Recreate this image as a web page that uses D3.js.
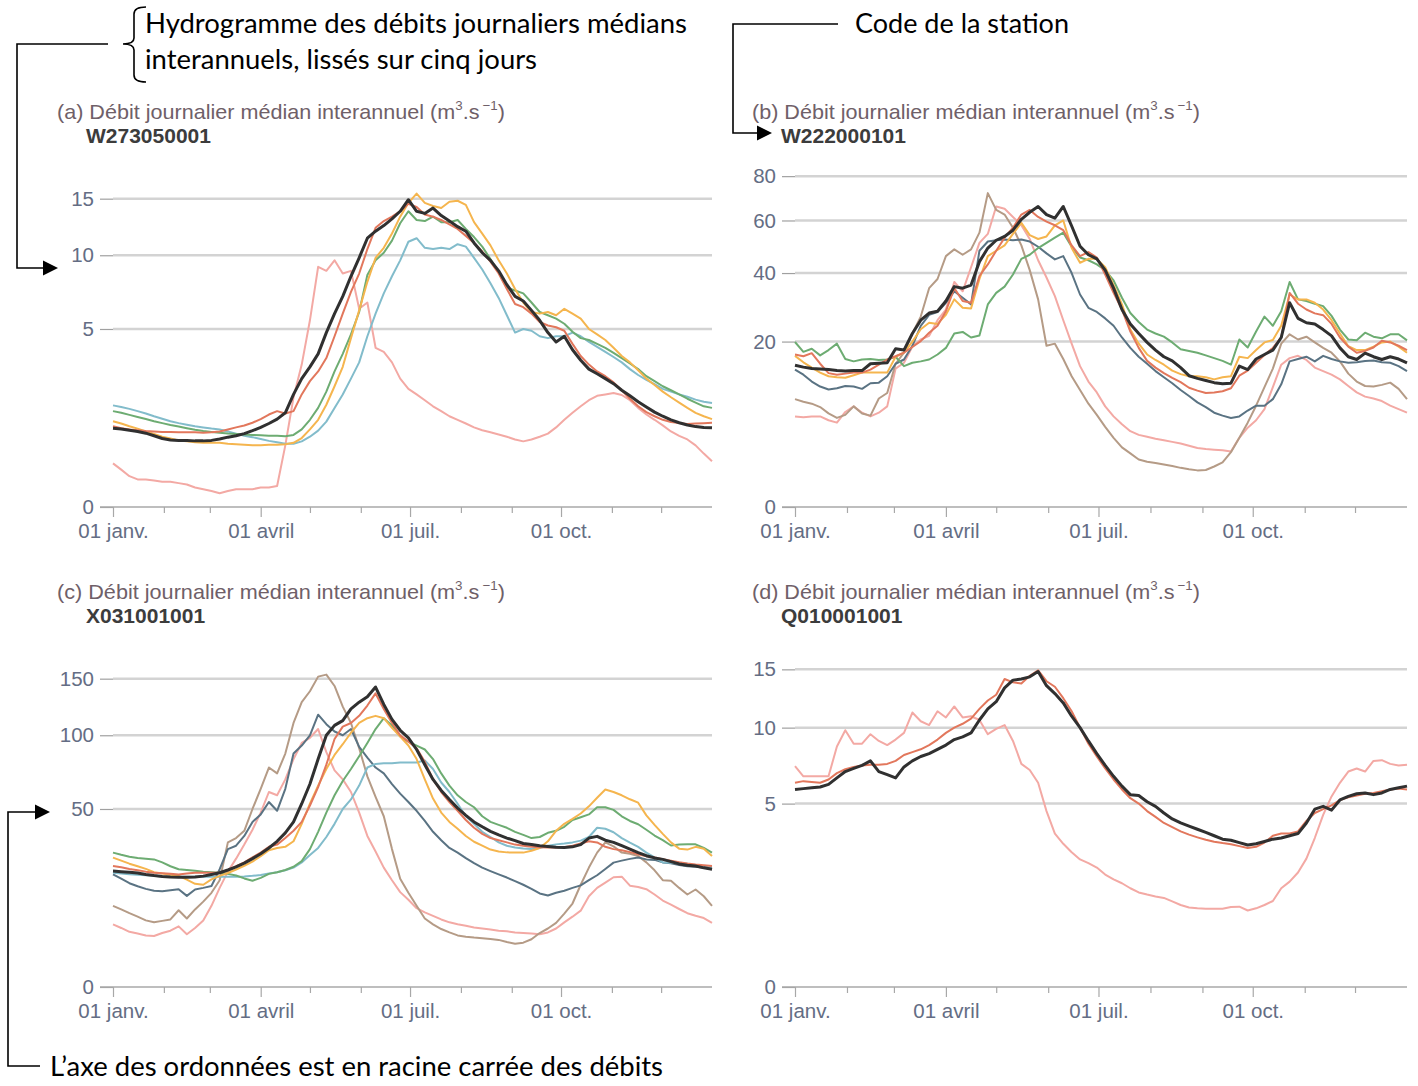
<!DOCTYPE html>
<html>
<head>
<meta charset="utf-8">
<script src="https://cdn.jsdelivr.net/npm/d3@7"></script>
<style>
  body { margin: 0; background: #fff; }
  svg { display: block; }
</style>
</head>
<body>
<svg id="fig" width="1418" height="1086"></svg>
<script>
// Jours de l'année (pas de 5 jours), 1er janvier = jour 0
const jours = d3.range(0, 366, 5);

// Graduations de l'axe des abscisses
const debutsMois = [0, 31, 59, 90, 120, 151, 181, 212, 243, 273, 304, 334];
const joursEtiquetes = [0, 90, 181, 273];
const etiquettesMois = ["01 janv.", "01 avril", "01 juil.", "01 oct."];

// Graduations des ordonnées (m3/s)
const ticksA = [0, 5, 10, 15];
const ticksB = [0, 20, 40, 60, 80];
const ticksC = [0, 50, 100, 150];
const ticksD = [0, 5, 10, 15];

// ---- (a) W273050001 : débits médians lissés (m3/s)
const A_noir = [0.98,0.96,0.93,0.90,0.86,0.80,0.74,0.71,0.70,0.70,
  0.69,0.69,0.70,0.73,0.77,0.80,0.85,0.92,1.00,1.10,
  1.22,1.40,2.0,2.6,3.1,3.7,4.8,5.9,7.0,8.4,
  9.8,11.4,12.0,12.5,13.1,13.8,14.9,13.8,13.6,14.1,
  13.4,12.9,12.4,12.0,11.0,10.2,9.6,8.8,7.8,7.0,
  6.7,6.1,5.5,4.8,4.3,4.6,3.9,3.4,3.0,2.8,
  2.6,2.4,2.15,1.95,1.75,1.58,1.42,1.30,1.20,1.12,
  1.06,1.02,1.00,0.99];
const A_rouge = [1.03,0.98,0.95,0.93,0.91,0.90,0.89,0.89,0.88,0.88,
  0.88,0.87,0.88,0.90,0.95,1.00,1.05,1.12,1.22,1.35,
  1.45,1.38,1.45,2.0,2.5,2.9,3.5,4.6,5.9,7.3,
  8.6,10.5,12.3,12.9,13.3,13.8,14.5,14.2,13.5,13.3,
  13.0,12.6,12.2,11.6,11.0,10.3,9.5,8.6,7.5,6.5,
  6.3,5.9,5.4,5.2,5.1,4.9,4.2,3.6,3.2,2.9,
  2.7,2.45,2.15,1.85,1.6,1.42,1.30,1.20,1.14,1.11,
  1.09,1.10,1.11,1.12];
const A_vert = [1.45,1.40,1.34,1.28,1.22,1.16,1.11,1.06,1.02,0.98,
  0.94,0.91,0.89,0.87,0.85,0.84,0.83,0.82,0.81,0.80,
  0.80,0.79,0.82,0.95,1.2,1.55,2.1,2.9,3.7,4.7,
  6.0,8.5,9.6,10.2,11.2,12.7,13.8,13.0,12.9,13.3,
  12.8,12.8,13.0,12.2,11.5,10.7,9.7,8.7,7.6,7.4,
  7.2,6.6,6.0,5.8,5.6,5.3,4.85,4.5,4.4,4.2,
  4.0,3.75,3.5,3.25,3.0,2.7,2.5,2.3,2.15,2.0,
  1.85,1.72,1.6,1.55];
const A_jaune = [1.16,1.10,1.03,0.97,0.90,0.84,0.78,0.74,0.70,0.68,
  0.66,0.65,0.65,0.65,0.63,0.62,0.61,0.60,0.60,0.61,
  0.61,0.62,0.65,0.75,0.95,1.2,1.65,2.3,3.1,4.5,
  6.1,8.0,9.8,10.6,11.8,13.3,14.6,15.5,14.6,14.3,
  14.1,14.7,14.8,14.4,12.8,11.8,10.8,9.6,8.6,7.5,
  6.6,6.0,5.9,6.0,5.8,6.2,5.9,5.6,5.0,4.7,
  4.4,4.0,3.6,3.3,2.95,2.6,2.35,2.1,1.9,1.72,
  1.55,1.4,1.3,1.22];
const A_bleu = [1.63,1.58,1.52,1.45,1.38,1.30,1.23,1.16,1.11,1.07,
  1.03,1.00,0.97,0.95,0.90,0.85,0.80,0.77,0.73,0.69,
  0.66,0.63,0.63,0.68,0.78,0.92,1.15,1.55,2.0,2.6,
  3.3,4.6,5.9,7.2,8.4,9.6,11.1,11.4,10.6,10.5,
  10.6,10.5,10.9,10.7,9.8,8.9,7.9,6.9,5.8,4.8,
  5.0,4.9,4.6,4.5,4.6,4.6,4.8,4.6,4.3,4.05,
  3.8,3.55,3.3,3.0,2.75,2.55,2.38,2.2,2.1,2.0,
  1.92,1.82,1.75,1.71];
const A_rose = [0.30,0.22,0.15,0.12,0.12,0.11,0.10,0.10,0.09,0.08,
  0.06,0.05,0.04,0.03,0.04,0.05,0.05,0.05,0.06,0.06,
  0.07,0.6,1.9,3.2,5.5,9.1,8.8,9.6,8.6,8.8,
  6.2,6.6,4.0,3.8,3.3,2.6,2.2,2.0,1.8,1.6,
  1.45,1.3,1.2,1.1,1.0,0.93,0.88,0.83,0.78,0.72,
  0.68,0.72,0.78,0.85,1.0,1.2,1.4,1.6,1.8,1.95,
  2.0,2.05,1.98,1.8,1.55,1.35,1.2,1.05,0.9,0.8,
  0.72,0.6,0.45,0.33];

// ---- (b) W222000101
const B_noir = [14.7,14.3,14.0,13.9,13.8,13.6,13.5,13.6,13.6,15.0,
  15.1,15.2,18.3,18.0,22.0,25.5,27.5,28.0,31.0,35.5,
  35.0,36.0,44.0,49.0,52.0,53.5,56.0,60.5,63.5,66.0,
  62.5,61.0,66.0,57.7,49.7,46.5,45.0,41.0,35.0,28.5,
  24.5,22.0,19.8,18.0,16.5,15.6,14.2,12.6,12.1,11.7,
  11.3,11.1,11.2,14.5,13.8,16.0,17.0,18.0,21.0,30.5,
  26.0,24.8,24.5,23.0,21.4,18.5,16.5,15.9,17.3,16.5,
  15.9,16.5,16.0,15.2];
const B_vert = [19.9,17.6,18.3,16.8,18.0,19.5,16.0,15.5,15.9,16.0,
  15.8,15.9,16.5,14.5,15.2,15.5,15.9,17.0,18.5,22.0,
  22.4,21.0,21.5,30.0,33.5,35.5,39.5,45.0,46.5,49.0,
  51.0,53.0,55.0,49.5,45.5,44.5,43.0,41.0,37.5,32.0,
  27.5,25.0,23.0,22.0,21.2,19.8,18.2,17.8,17.4,16.8,
  16.2,15.6,14.8,20.5,18.6,22.5,26.5,24.0,28.0,37.0,
  31.5,31.0,30.2,29.5,26.7,23.0,20.5,20.3,22.2,21.2,
  20.8,21.8,21.8,20.3];
const B_rouge = [17.0,16.6,17.3,15.0,13.1,12.8,13.0,13.2,13.2,13.8,
  14.8,15.9,16.6,17.4,18.7,20.1,22.2,24.0,28.0,35.0,
  31.0,30.5,39.0,43.0,48.0,53.0,57.0,62.5,64.5,61.5,
  59.5,58.0,56.0,50.0,46.0,47.5,45.5,39.5,33.5,28.5,
  22.5,18.5,15.6,14.2,13.1,12.2,11.4,10.4,9.9,9.5,
  9.6,9.8,10.3,12.6,13.6,15.2,16.9,18.5,21.0,33.5,
  30.2,28.5,27.4,26.9,24.5,21.0,18.8,17.4,17.8,18.6,
  20.2,19.8,19.0,18.0];
const B_jaune = [16.7,15.3,14.2,13.2,12.5,12.3,12.2,12.7,13.2,13.2,
  13.2,13.2,16.5,17.4,20.0,23.1,24.8,24.5,27.0,31.5,
  29.0,28.8,38.0,46.0,48.0,50.0,54.5,59.0,54.0,52.5,
  53.5,58.0,60.0,49.0,43.6,45.0,45.0,42.0,36.0,30.0,
  23.0,19.5,17.0,15.8,14.8,13.6,12.9,12.5,12.5,12.3,
  11.9,12.3,12.5,16.5,16.2,18.0,19.8,20.4,24.0,33.0,
  31.5,31.5,30.5,28.5,25.5,22.0,18.9,18.0,18.0,18.8,
  19.8,20.0,18.8,17.4];
const B_ardoise = [13.8,12.8,11.5,10.6,10.1,10.3,10.7,10.6,10.2,11.2,
  11.3,12.5,15.0,15.9,19.0,24.0,27.0,27.8,30.5,34.0,
  32.0,30.0,48.0,51.5,52.0,52.3,52.0,52.3,51.5,49.5,
  47.0,44.8,46.0,40.0,33.0,29.0,27.8,26.0,24.0,21.0,
  18.5,16.5,15.0,13.5,12.3,11.2,10.0,9.0,8.0,7.3,
  6.5,6.1,5.8,6.0,6.8,7.5,7.5,8.5,11.0,15.5,
  16.0,16.5,15.5,16.7,16.0,15.5,15.2,15.3,15.6,15.7,
  15.3,15.2,14.5,13.5];
const B_brun = [8.5,8.1,7.8,7.3,6.4,5.8,6.2,7.4,6.4,6.1,
  8.6,9.5,15.0,17.4,22.0,26.5,35.0,38.0,46.0,48.5,
  46.5,48.5,55.0,72.0,64.5,62.5,57.0,50.0,41.0,31.5,
  19.0,19.5,16.0,12.5,10.0,7.8,6.2,4.7,3.5,2.6,
  2.1,1.65,1.5,1.42,1.32,1.23,1.12,1.04,0.98,1.0,
  1.2,1.45,2.2,3.5,5.2,7.5,10.5,14.0,19.5,21.8,
  20.5,21.2,19.8,18.5,17.4,15.5,13.0,11.5,10.7,10.6,
  10.9,11.3,10.2,8.5];
const B_rose = [6.0,5.9,6.0,6.0,5.5,5.2,6.6,7.4,6.5,6.0,
  6.5,7.4,14.0,15.2,18.8,20.5,21.4,25.5,28.5,37.0,
  34.0,42.0,51.0,54.5,66.0,65.0,61.5,58.0,52.5,44.5,
  38.5,32.5,25.5,19.5,14.5,11.5,9.6,7.4,6.0,5.0,
  4.2,3.8,3.6,3.4,3.25,3.1,2.95,2.75,2.55,2.45,
  2.4,2.35,2.25,3.5,4.6,5.5,7.0,10.5,14.8,16.2,
  16.7,15.8,14.2,13.5,12.8,11.9,10.7,9.6,8.9,8.6,
  8.2,7.5,7.0,6.5];

// ---- (c) X031001001
const C_noir = [21.2,21.0,20.8,20.5,20.0,19.6,19.3,19.1,19.0,19.0,
  19.1,19.4,20.0,20.6,21.6,22.8,24.2,26.0,28.0,30.5,
  33.5,37.5,43.0,53.0,65.0,82.0,100.0,108.0,112.0,122.0,
  128.0,133.0,142.0,126.0,113.0,104.0,98.0,89.0,78.0,68.0,
  61.0,55.5,50.5,46.5,43.0,40.5,38.2,36.5,35.0,33.8,
  32.5,32.0,31.5,31.2,30.8,30.7,31.0,32.0,35.0,35.8,
  34.0,33.0,31.5,30.0,28.5,27.2,26.3,25.7,24.8,23.9,
  23.4,23.1,22.4,21.9];
const C_rouge = [23.1,22.6,22.0,21.5,21.0,20.6,20.4,20.2,20.0,20.3,
  20.6,20.6,20.6,20.6,21.5,23.0,24.5,26.5,28.5,31.0,
  32.0,35.0,38.5,43.0,52.0,63.0,78.0,97.0,107.0,110.0,
  116.0,125.0,136.0,122.0,110.0,100.0,95.0,90.0,80.0,68.0,
  60.0,54.0,49.0,44.0,40.0,37.0,35.0,34.0,33.0,32.0,
  31.5,31.0,30.8,30.7,30.7,30.8,31.5,32.5,33.5,33.0,
  31.0,30.0,29.5,28.7,27.8,27.0,26.5,25.8,25.2,24.6,
  24.1,23.7,23.4,23.1];
const C_jaune = [26.4,25.2,24.0,23.0,22.0,20.8,20.3,19.9,19.5,18.2,
  16.8,16.5,18.3,19.5,20.5,21.8,23.2,24.8,27.0,29.5,
  30.5,31.0,33.5,42.0,53.0,64.0,75.0,85.0,93.0,102.0,
  110.0,114.0,116.0,114.0,106.0,99.0,92.0,82.0,68.0,56.0,
  48.0,43.0,39.5,36.0,33.3,31.5,29.8,29.0,28.6,28.5,
  28.5,29.3,30.5,33.5,38.5,42.0,44.6,47.5,51.5,56.5,
  61.5,60.0,58.0,55.6,53.6,46.5,41.5,37.0,33.0,30.2,
  29.8,31.0,30.2,27.1];
const C_vert = [28.5,27.6,26.8,26.3,26.0,25.7,24.5,23.0,21.9,21.6,
  21.3,21.0,20.8,20.6,20.2,19.6,18.6,17.8,18.8,20.2,
  20.8,21.6,22.8,25.0,30.0,38.0,48.0,58.0,67.0,75.0,
  84.0,94.0,105.0,114.0,108.0,99.0,95.0,92.0,89.0,82.0,
  72.0,64.0,58.0,54.0,51.0,46.0,43.0,41.5,40.0,38.0,
  36.5,35.0,35.5,37.5,38.5,40.5,44.0,45.5,47.0,51.0,
  51.0,49.5,46.0,43.5,41.8,39.0,36.2,34.0,31.6,32.0,
  32.1,32.1,30.5,28.5];
const C_bleu = [20.6,20.3,20.1,19.9,19.7,19.5,19.3,19.2,19.2,19.2,
  19.2,19.2,19.2,19.2,19.2,19.2,19.3,19.5,19.8,20.3,
  20.8,21.5,22.5,24.5,27.5,30.5,35.5,42.0,50.0,55.5,
  64.0,76.0,78.5,79.0,79.0,79.5,79.5,79.5,81.0,75.0,
  66.0,60.0,53.0,46.0,42.0,38.0,35.5,33.0,31.5,30.7,
  30.3,30.0,30.5,31.5,32.1,32.5,33.0,33.8,35.5,40.0,
  39.5,37.8,35.0,32.9,31.0,28.5,26.5,24.5,24.4,24.4,
  24.0,23.2,22.8,22.5];
const C_ardoise = [20.0,18.5,17.0,16.0,15.2,14.6,14.5,14.8,15.1,13.1,
  15.0,15.5,16.1,21.9,30.0,31.5,36.0,43.0,47.0,54.0,
  49.0,62.0,86.0,92.0,100.0,117.0,109.0,103.0,100.0,105.0,
  91.0,83.0,76.0,72.0,65.0,59.0,54.0,49.0,43.5,38.0,
  34.0,30.5,28.5,26.2,24.2,22.5,21.2,20.0,18.9,17.7,
  16.5,15.2,13.8,13.2,14.0,14.6,15.5,16.3,18.0,19.7,
  22.0,24.4,25.2,25.9,26.5,25.7,25.5,24.5,24.2,23.5,
  23.0,22.8,22.5,21.9];
const C_brun = [10.4,9.5,8.6,7.8,7.0,6.6,6.9,7.2,9.3,7.4,
  9.5,11.5,14.0,18.0,33.0,35.0,38.5,50.0,62.0,76.0,
  72.0,86.0,110.0,128.0,138.0,152.0,154.0,143.0,124.0,110.0,
  90.0,70.0,57.0,46.0,30.0,18.5,14.0,10.4,7.4,6.2,
  5.3,4.7,4.2,4.0,3.85,3.75,3.65,3.5,3.2,2.95,
  3.1,3.6,4.6,5.4,6.5,8.5,11.0,16.5,22.5,28.5,
  33.0,31.2,28.5,28.0,27.1,24.5,21.5,18.0,17.8,15.5,
  13.5,15.0,13.0,10.4];
const C_rose = [6.2,5.5,4.8,4.5,4.2,4.1,4.6,5.0,5.8,4.4,
  5.5,7.0,10.4,15.5,21.0,26.0,32.0,39.0,48.0,60.0,
  58.0,68.0,82.0,94.0,98.0,105.0,87.0,74.0,68.0,60.0,
  48.0,36.0,29.0,22.5,18.0,14.2,12.0,9.8,8.8,8.0,
  7.2,6.6,6.2,5.9,5.6,5.4,5.2,5.0,4.9,4.7,
  4.6,4.5,4.4,4.7,5.4,6.6,7.8,9.2,13.0,15.5,
  17.2,19.0,19.2,16.2,15.8,15.1,13.5,11.8,10.7,9.6,
  8.6,8.0,7.5,6.5];

// ---- (d) Q010001001
const D_noir = [5.8,5.85,5.9,5.95,6.1,6.5,6.9,7.1,7.3,7.6,
  6.9,6.7,6.5,7.2,7.6,7.9,8.1,8.4,8.7,9.1,
  9.3,9.6,10.6,11.5,12.1,13.3,14.0,14.1,14.3,14.8,
  13.5,12.8,12.0,10.9,10.0,9.0,8.1,7.3,6.6,6.0,
  5.5,5.45,5.1,4.85,4.5,4.2,4.0,3.85,3.7,3.55,
  3.4,3.25,3.2,3.1,3.0,3.05,3.15,3.25,3.3,3.4,
  3.5,4.0,4.7,4.85,4.65,5.2,5.4,5.55,5.6,5.5,
  5.6,5.8,5.9,6.0];
const D_rouge = [6.2,6.3,6.25,6.2,6.4,6.8,7.05,7.2,7.3,7.35,
  7.35,7.4,7.6,8.0,8.2,8.4,8.7,9.1,9.6,10.0,
  10.3,10.7,11.5,12.2,12.7,14.1,13.8,13.7,14.4,14.9,
  13.9,13.4,12.4,11.3,10.0,8.8,7.9,7.1,6.4,5.8,
  5.3,5.0,4.6,4.3,4.0,3.8,3.6,3.45,3.33,3.22,
  3.14,3.08,3.03,2.95,2.87,2.92,3.1,3.4,3.5,3.5,
  3.6,4.1,4.5,4.7,4.9,5.2,5.35,5.45,5.55,5.6,
  5.7,5.8,5.85,5.8];
const D_rose = [7.25,6.6,6.6,6.6,6.6,8.6,9.8,8.8,8.8,9.5,
  9.0,8.7,9.1,9.6,11.2,10.5,10.2,11.3,10.8,11.7,
  10.8,10.9,10.6,9.5,9.9,10.2,9.0,7.4,7.0,6.2,
  4.6,3.5,3.05,2.7,2.42,2.28,2.12,1.88,1.72,1.6,
  1.45,1.33,1.27,1.22,1.18,1.09,1.0,0.94,0.92,0.91,
  0.91,0.91,0.95,0.96,0.87,0.92,1.0,1.1,1.45,1.65,
  1.95,2.45,3.3,4.4,5.4,6.2,6.9,7.1,6.9,7.6,
  7.65,7.4,7.3,7.35];

// Couleurs des séries
const couleurs = {
  rose: "#f3a9a4", rouge: "#e2775c", vert: "#6dac72", jaune: "#f5b54e",
  bleu: "#82bccb", ardoise: "#5a7383", brun: "#b59b86", noir: "#303030"
};

// Mise en page des quatre panneaux
const panneaux = [
  { lettre: "a", code: "W273050001", x0: 113, x1: 712, yb: 507, yt: 160, ymax: 19, ticks: ticksA,
    tx: 57, ty: 119,
    series: [["rose", A_rose], ["bleu", A_bleu], ["vert", A_vert], ["jaune", A_jaune], ["rouge", A_rouge], ["noir", A_noir]] },
  { lettre: "b", code: "W222000101", x0: 795, x1: 1407, yb: 507, yt: 160, ymax: 88, ticks: ticksB,
    tx: 752, ty: 119,
    series: [["rose", B_rose], ["brun", B_brun], ["ardoise", B_ardoise], ["vert", B_vert], ["jaune", B_jaune], ["rouge", B_rouge], ["noir", B_noir]] },
  { lettre: "c", code: "X031001001", x0: 113, x1: 712, yb: 987, yt: 640, ymax: 190, ticks: ticksC,
    tx: 57, ty: 599,
    series: [["rose", C_rose], ["brun", C_brun], ["ardoise", C_ardoise], ["bleu", C_bleu], ["vert", C_vert], ["jaune", C_jaune], ["rouge", C_rouge], ["noir", C_noir]] },
  { lettre: "d", code: "Q010001001", x0: 795, x1: 1407, yb: 987, yt: 640, ymax: 17.9, ticks: ticksD,
    tx: 752, ty: 599,
    series: [["rose", D_rose], ["rouge", D_rouge], ["noir", D_noir]] }
];

const svg = d3.select("#fig");
const police = "'Liberation Sans', Arial, Helvetica, sans-serif";
const couleurTexteAxe = "#646d84";

panneaux.forEach(p => {
  const x = d3.scaleLinear().domain([0, 365]).range([p.x0, p.x1]);
  const y = d3.scaleSqrt().domain([0, p.ymax]).range([p.yb, p.yt]);
  const g = svg.append("g");

  // lignes de grille horizontales
  g.selectAll("line.grille").data(p.ticks.filter(t => t > 0)).join("line")
    .attr("class", "grille")
    .attr("x1", p.x0).attr("x2", p.x1)
    .attr("y1", d => y(d)).attr("y2", d => y(d))
    .attr("stroke", "#d3d3d3").attr("stroke-width", 2.5);

  // axe des ordonnées
  const axeY = g.append("g").attr("transform", `translate(${p.x0},0)`)
    .call(d3.axisLeft(y).tickValues(p.ticks).tickSize(13).tickPadding(6).tickFormat(d3.format("d")));
  axeY.select(".domain").remove();
  axeY.selectAll(".tick line").attr("stroke", "#a0a0a0").attr("stroke-width", 1.2);
  axeY.selectAll(".tick text").attr("font-family", police).attr("font-size", 20.5).attr("fill", couleurTexteAxe);

  // axe des abscisses : ligne de base
  g.append("line").attr("x1", p.x0 - 13).attr("x2", p.x1)
    .attr("y1", p.yb).attr("y2", p.yb)
    .attr("stroke", "#a8a8a8").attr("stroke-width", 1.5);

  // graduations mensuelles
  const axeMois = g.append("g").attr("transform", `translate(0,${p.yb})`)
    .call(d3.axisBottom(x).tickValues(debutsMois.filter(d => !joursEtiquetes.includes(d))).tickSize(6).tickFormat(""));
  axeMois.select(".domain").remove();
  axeMois.selectAll(".tick line").attr("stroke", "#a8a8a8").attr("stroke-width", 1.2);

  // graduations étiquetées
  const axeX = g.append("g").attr("transform", `translate(0,${p.yb})`)
    .call(d3.axisBottom(x).tickValues(joursEtiquetes).tickSize(10).tickPadding(6)
      .tickFormat(d => etiquettesMois[joursEtiquetes.indexOf(d)]));
  axeX.select(".domain").remove();
  axeX.selectAll(".tick line").attr("stroke", "#a8a8a8").attr("stroke-width", 1.2);
  axeX.selectAll(".tick text").attr("font-family", police).attr("font-size", 20.5).attr("fill", couleurTexteAxe);

  // courbes
  const ligne = d3.line().x((d, i) => x(jours[i])).y(d => y(d));
  g.selectAll("path.serie").data(p.series).join("path")
    .attr("class", "serie")
    .attr("d", d => ligne(d[1]))
    .attr("fill", "none")
    .attr("stroke", d => couleurs[d[0]])
    .attr("stroke-width", d => d[0] === "noir" ? 3 : 2)
    .attr("stroke-linejoin", "round");

  // titre et code de station
  const t = svg.append("text").attr("x", p.tx).attr("y", p.ty)
    .attr("font-family", police).attr("font-size", 21).attr("fill", "#6f6068")
    .attr("textLength", 448).attr("lengthAdjust", "spacingAndGlyphs");
  t.append("tspan").text(`(${p.lettre}) Débit journalier médian interannuel (m`);
  t.append("tspan").attr("dy", -9).attr("font-size", 13).text("3");
  t.append("tspan").attr("dy", 9).text(".s");
  t.append("tspan").attr("dy", -9).attr("font-size", 13).attr("dx", 3).text("−1");
  t.append("tspan").attr("dy", 9).text(")");

  svg.append("text").attr("x", p.tx + 29).attr("y", p.ty + 24)
    .attr("font-family", police).attr("font-size", 21).attr("font-weight", "bold")
    .attr("fill", "#3c3c3c").text(p.code);
});

// ---- Annotations
const ann = svg.append("g").attr("stroke", "#000").attr("stroke-width", 1.6).attr("fill", "none");
const policeNote = "Lato, 'Open Sans', sans-serif";

function note(txt, x, y, largeur) {
  svg.append("text").attr("x", x).attr("y", y)
    .attr("font-family", policeNote).attr("font-size", 26).attr("fill", "#000")
    .attr("textLength", largeur).attr("lengthAdjust", "spacingAndGlyphs")
    .text(txt);
}
function fleche(xPointe, yPointe) {
  svg.append("path")
    .attr("d", `M${xPointe},${yPointe} L${xPointe - 15},${yPointe - 7.5} L${xPointe - 15},${yPointe + 7.5} Z`)
    .attr("fill", "#000");
}

// accolade et renvoi vers l'axe (a)
ann.append("path").attr("d", "M146,7 Q134,7 134,14 L134,38 Q134,44 123,44 Q134,44 134,50 L134,75 Q134,82 146,82");
ann.append("path").attr("d", "M108,44 L17,44 L17,268 L44,268");
fleche(58, 268);
note("Hydrogramme des débits journaliers médians", 145, 33, 542);
note("interannuels, lissés sur cinq jours", 145, 69, 392);

// renvoi vers le code de station (b)
ann.append("path").attr("d", "M838,24 L733,24 L733,133 L758,133");
fleche(772, 133);
note("Code de la station", 855, 33, 214);

// renvoi vers l'échelle des ordonnées (c)
ann.append("path").attr("d", "M36,812 L8,812 L8,1066 L40,1066");
fleche(50, 812);
note("L’axe des ordonnées est en racine carrée des débits", 50, 1076, 613);
</script>
</body>
</html>
